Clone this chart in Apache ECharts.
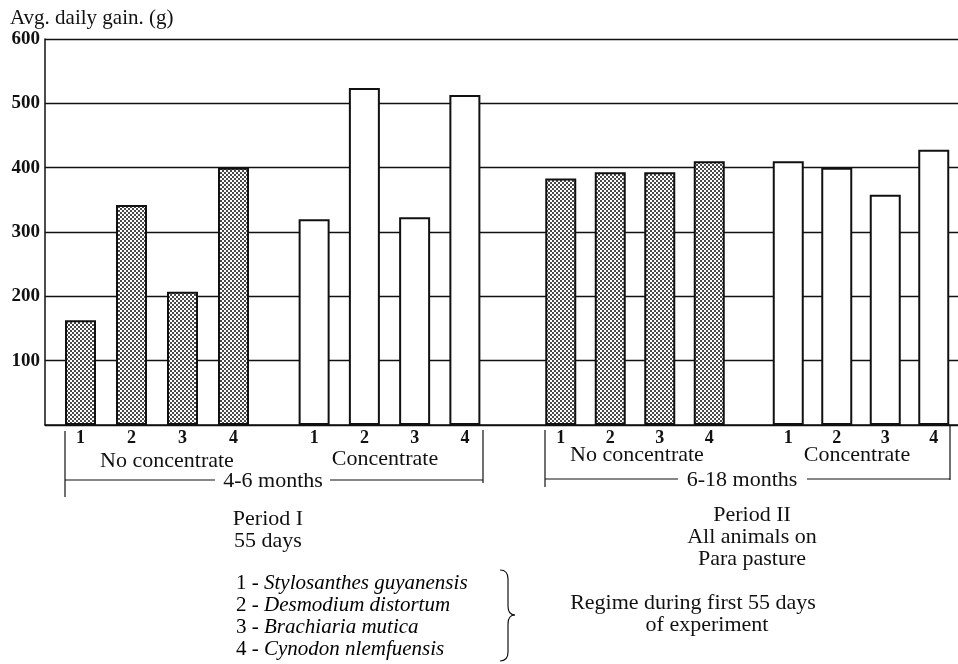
<!DOCTYPE html>
<html>
<head>
<meta charset="utf-8">
<script src="https://cdn.jsdelivr.net/npm/echarts@6/dist/echarts.min.js"></script>
<style>
  html, body { margin: 0; padding: 0; background: #fff; }
  #chart { width: 958px; height: 664px; }
</style>
</head>
<body>
<div id="chart"></div>
<script>
// data
const barLabels = ['1', '2', '3', '4']
const p1NoConc = [163, 342, 207, 400]
const p1Conc = [320, 524, 323, 513]
const p2NoConc = [383, 393, 393, 410]
const p2Conc = [410, 400, 358, 428]
const yTicks = [0, 100, 200, 300, 400, 500, 600]
const species = ['Stylosanthes guyanensis', 'Desmodium distortum', 'Brachiaria mutica', 'Cynodon nlemfuensis']

const FONT = '"Liberation Serif", "DejaVu Serif", serif'
const INK = '#111'

// stippled fill for the "no concentrate" bars
function dots() {
  let c = document.createElement('canvas')
  c.width = 4
  c.height = 4
  let ctx = c.getContext('2d')
  ctx.fillStyle = '#fff'
  ctx.fillRect(0, 0, 4, 4)
  ctx.fillStyle = '#4a4a4a'
  ctx.fillRect(0, 0, 2, 2)
  ctx.fillRect(2, 2, 2, 2)
  return c
}
const stipple = { image: dots(), repeat: 'repeat' }

const TOP = 39, BOTTOM = 239
// four bar blocks: [left, width, values, fill]
const blocks = [
  [55, 204, p1NoConc, stipple],
  [289, 201, p1Conc, '#fff'],
  [536, 198, p2NoConc, stipple],
  [764, 194, p2Conc, '#fff']
]

let myChart = echarts.init(document.getElementById('chart'))

let grids = [{ left: 45, right: 0, top: TOP, bottom: BOTTOM }]
let xAxes = [{
  gridIndex: 0, type: 'value', min: 0, max: 1,
  axisLine: { show: true, onZero: false, lineStyle: { color: INK, width: 1.5 } },
  axisTick: { show: false }, axisLabel: { show: false }, splitLine: { show: false }
}]
let yAxes = [{
  gridIndex: 0, type: 'value',
  min: yTicks[0], max: yTicks[yTicks.length - 1], interval: 100,
  axisLine: { show: true, lineStyle: { color: INK, width: 1.5 } },
  axisTick: { show: false },
  axisLabel: {
    formatter: v => v === 0 ? '' : String(v),
    fontFamily: FONT, fontWeight: 'bold', fontSize: 19, color: INK, margin: 5
  },
  splitLine: { show: true, lineStyle: { color: INK, width: 1.3 } }
}]
let series = []

blocks.forEach((b, i) => {
  let gi = i + 1
  grids.push({ left: b[0], width: b[1], top: TOP, bottom: BOTTOM })
  xAxes.push({
    gridIndex: gi, type: 'category', data: barLabels,
    axisLine: { show: false }, axisTick: { show: false },
    axisLabel: { fontFamily: FONT, fontWeight: 'bold', fontSize: 18, color: INK, margin: 4 }
  })
  yAxes.push({
    gridIndex: gi, type: 'value', min: 0, max: 600, interval: 100,
    axisLine: { show: false }, axisTick: { show: false },
    axisLabel: { show: false }, splitLine: { show: false }
  })
  series.push({
    type: 'bar', xAxisIndex: gi, yAxisIndex: gi,
    data: b[2], barWidth: 31,
    itemStyle: { color: b[3], borderColor: INK, borderWidth: 2 },
    silent: true
  })
})

function line(points, w) {
  return { type: 'polyline', shape: { points: points }, style: { stroke: INK, lineWidth: w || 1.2, fill: null } }
}
function curve(x1, y1, c1x, c1y, c2x, c2y, x2, y2) {
  return {
    type: 'bezierCurve',
    shape: { x1: x1, y1: y1, cpx1: c1x, cpy1: c1y, cpx2: c2x, cpy2: c2y, x2: x2, y2: y2 },
    style: { stroke: INK, lineWidth: 1.2, fill: null }
  }
}
function txt(x, y, s, extra) {
  return {
    type: 'text', x: x, y: y,
    style: Object.assign({
      text: s, font: '22px ' + FONT, fill: INK,
      textAlign: 'center', textVerticalAlign: 'middle'
    }, extra || {})
  }
}

let graphics = [
  txt(10, 18, 'Avg. daily gain. (g)', { textAlign: 'left', font: '21px ' + FONT }),

  // period I bracket
  line([[65, 431], [65, 497]]),
  line([[65, 480], [215, 480]]),
  line([[330, 480], [483, 480]]),
  line([[483, 430], [483, 483]]),
  txt(273, 481, '4-6 months'),
  txt(167, 461, 'No concentrate'),
  txt(385, 459, 'Concentrate'),
  txt(268, 519, 'Period I'),
  txt(268, 541, '55 days'),

  // period II bracket
  line([[545, 430], [545, 487]]),
  line([[545, 479], [678, 479]]),
  line([[807, 479], [950, 479]]),
  line([[950, 425], [950, 480]]),
  txt(742, 480, '6-18 months'),
  txt(637, 455, 'No concentrate'),
  txt(857, 455, 'Concentrate'),
  txt(752, 515, 'Period II'),
  txt(752, 537, 'All animals on'),
  txt(752, 559, 'Para pasture'),

  // brace
  curve(500, 570, 506, 570, 508, 573, 508, 579),
  line([[508, 579], [508, 606]]),
  curve(508, 606, 508, 612, 510, 615, 515, 615),
  curve(515, 615, 510, 615, 508, 618, 508, 624),
  line([[508, 624], [508, 652]]),
  curve(508, 652, 508, 658, 506, 661, 500, 661),

  txt(693, 603, 'Regime during first 55 days'),
  txt(707, 625, 'of experiment')
]

species.forEach((s, i) => {
  graphics.push({
    type: 'text', x: 236, y: 583 + i * 22,
    style: {
      text: '{n|' + barLabels[i] + ' - }{s|' + s + '}',
      textVerticalAlign: 'middle',
      rich: {
        n: { fontFamily: FONT, fontSize: 21, color: INK },
        s: { fontFamily: FONT, fontSize: 21, fontStyle: 'italic', color: INK }
      }
    }
  })
})

let option = {
  backgroundColor: '#fff',
  animation: false,
  grid: grids,
  xAxis: xAxes,
  yAxis: yAxes,
  series: series,
  graphic: graphics
}

myChart.setOption(option)
</script>
</body>
</html>
